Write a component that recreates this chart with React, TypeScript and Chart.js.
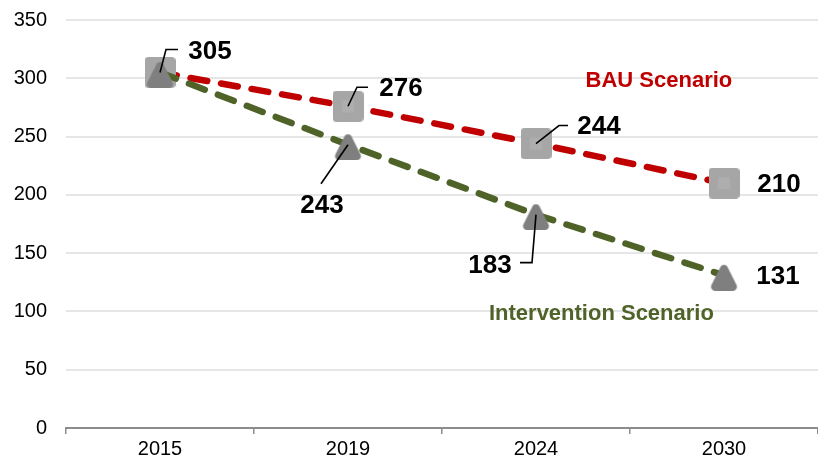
import React, { useEffect, useRef } from "react";
import { Chart, registerables } from "chart.js";

Chart.register(...registerables);

const years = ["2015", "2019", "2024", "2030"];
const bauValues = [305, 276, 244, 210];
const interventionValues = [305, 243, 183, 131];
const yTicks = [0, 50, 100, 150, 200, 250, 300, 350];

const FONT = "'Liberation Sans', Arial, sans-serif";
const RED = "#C00000";
const GREEN = "#4F6228";

function roundedSquare(size: number, r: number, color: string, inner: string) {
  const c = document.createElement("canvas");
  c.width = size;
  c.height = size;
  const ctx = c.getContext("2d")!;
  ctx.fillStyle = color;
  ctx.beginPath();
  ctx.moveTo(r, 0);
  ctx.arcTo(size, 0, size, size, r);
  ctx.arcTo(size, size, 0, size, r);
  ctx.arcTo(0, size, 0, 0, r);
  ctx.arcTo(0, 0, size, 0, r);
  ctx.closePath();
  ctx.fill();
  ctx.fillStyle = inner;
  const s = size * 0.4;
  ctx.fillRect((size - s) / 2, (size - s) / 2, s, s);
  return c;
}

function roundedTriangle(size: number, r: number, color: string) {
  const c = document.createElement("canvas");
  c.width = size;
  c.height = size;
  const ctx = c.getContext("2d")!;
  ctx.fillStyle = color;
  const top = [size / 2, 0];
  const br = [size, size];
  const bl = [0, size];
  ctx.beginPath();
  ctx.moveTo((top[0] + bl[0]) / 2, (top[1] + bl[1]) / 2);
  ctx.arcTo(top[0], top[1], br[0], br[1], r);
  ctx.arcTo(br[0], br[1], bl[0], bl[1], r);
  ctx.arcTo(bl[0], bl[1], top[0], top[1], r);
  ctx.closePath();
  ctx.fill();
  return c;
}

// label offsets (px) from point, and leader-line paths
const bauLabelCfg = [
  { dx: 50, dy: -22, path: [[0, 0], [6, -23], [18, -23]] },
  { dx: 53, dy: -18, path: [[0, 0], [9, -19], [20, -19]] },
  { dx: 63, dy: -18, path: [[0, 0], [23, -18], [32, -18]] },
  { dx: 55, dy: 1, path: null },
];
const intLabelCfg = [
  { dx: 0, dy: 0, path: null, hide: true },
  { dx: -26, dy: 60, path: [[0, 0], [-27, 39]] },
  { dx: -46, dy: 50, path: [[0, 0], [-4, 48], [-16, 48]] },
  { dx: 54, dy: 1, path: null },
];

const labelPlugin = {
  id: "labels",
  afterDatasetsDraw(chart: any) {
    const ctx = chart.ctx;
    const xs = chart.scales.x;
    const ys = chart.scales.y;
    ctx.save();
    const drawSet = (vals: number[], cfg: any[]) => {
      vals.forEach((v, i) => {
        const c = cfg[i];
        if (c.hide) return;
        const px = xs.getPixelForValue(i);
        const py = ys.getPixelForValue(v);
        if (c.path) {
          ctx.strokeStyle = "#000";
          ctx.lineWidth = 1.6;
          ctx.beginPath();
          c.path.forEach((p: number[], k: number) => {
            if (k === 0) ctx.moveTo(px + p[0], py + p[1]);
            else ctx.lineTo(px + p[0], py + p[1]);
          });
          ctx.stroke();
        }
        ctx.fillStyle = "#000";
        ctx.font = `bold 26px ${FONT}`;
        ctx.textAlign = "center";
        ctx.textBaseline = "middle";
        ctx.fillText(String(v), px + c.dx, py + c.dy + 1);
      });
    };
    drawSet(bauValues, bauLabelCfg);
    drawSet(interventionValues, intLabelCfg);

    ctx.font = `bold 22px ${FONT}`;
    ctx.textAlign = "center";
    ctx.textBaseline = "middle";
    ctx.fillStyle = RED;
    ctx.fillText("BAU Scenario", xs.getPixelForValue(2.654), ys.getPixelForValue(298.5) + 1);
    ctx.fillStyle = GREEN;
    ctx.fillText("Intervention Scenario", xs.getPixelForValue(2.348), ys.getPixelForValue(98.7) + 1);
    ctx.restore();
  },
};

export default function App() {
  const ref = useRef<HTMLCanvasElement | null>(null);
  useEffect(() => {
    if (!ref.current) return;
    const sq = roundedSquare(31, 4, "#A6A6A6", "#AEAEAE");
    const tri = roundedTriangle(31, 4, "#7F7F7F");
    const chart = new Chart(ref.current, {
      type: "line",
      data: {
        labels: years,
        datasets: [
          {
            label: "BAU Scenario",
            data: bauValues,
            borderColor: RED,
            borderWidth: 6.5,
            borderDash: [17, 14],
            borderCapStyle: "round",
            pointStyle: sq as any,
            pointRadius: 15,
            pointHoverRadius: 15,
            fill: false,
            tension: 0,
            order: 2,
          },
          {
            label: "Intervention Scenario",
            data: interventionValues,
            borderColor: GREEN,
            borderWidth: 6.5,
            borderDash: [17, 14],
            borderCapStyle: "round",
            pointStyle: tri as any,
            pointRadius: 15,
            pointHoverRadius: 15,
            fill: false,
            tension: 0,
            order: 1,
          },
        ],
      },
      options: {
        animation: false,
        responsive: false,
        maintainAspectRatio: false,
        layout: { autoPadding: false, padding: { top: 20, left: 0, right: -3, bottom: 0 } },
        plugins: {
          legend: { display: false },
          tooltip: { enabled: false },
        },
        scales: {
          x: {
            offset: true,
            grid: {
              offset: true,
              drawOnChartArea: false,
              drawTicks: true,
              tickLength: 6,
              color: "#8C8C8C",
              lineWidth: 1.5,
            },
            border: { display: true, color: "#8C8C8C", width: 2 },
            ticks: {
              color: "#000",
              font: { family: FONT, size: 20 },
              padding: 3,
              maxRotation: 0,
            },
            afterFit: (s: any) => {
              s.height = 35;
              s.paddingLeft = 0;
              s.paddingRight = 0;
            },
          },
          y: {
            min: 0,
            max: 350,
            afterBuildTicks: (s: any) => {
              s.ticks = yTicks.map((v) => ({ value: v }));
            },
            grid: { color: "#E6E6E6", lineWidth: 2, drawTicks: false },
            border: { display: false },
            ticks: {
              color: "#000",
              font: { family: FONT, size: 20 },
              padding: 19,
            },
            afterFit: (s: any) => {
              s.width = 66;
              s.paddingTop = 0;
              s.paddingBottom = 0;
            },
          },
        },
      },
      plugins: [labelPlugin],
    });
    return () => chart.destroy();
  }, []);
  return (
    <div style={{ position: "fixed", left: 0, top: 0, width: 818, height: 463, background: "#fff" }}>
      <canvas ref={ref} width={818} height={463} style={{ width: 818, height: 463, display: "block" }} />
    </div>
  );
}
